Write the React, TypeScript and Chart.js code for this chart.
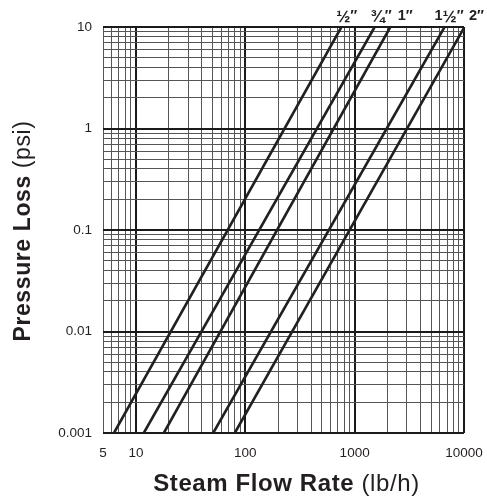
import React, { useEffect, useRef } from 'react';
import { Chart, registerables } from 'chart.js';

Chart.register(...registerables);

// Pipe sizes and the straight (log-log) pressure-loss lines, read at both ends
const pipeSizes = ['½″', '¾″', '1″', '1½″', '2″'];
const flowAtLowEnd = [6.3, 11.8, 18.0, 50.9, 80.2]; // lb/h
const lossAtLowEnd = [0.001, 0.001, 0.001, 0.001, 0.001]; // psi
const flowAtHighEnd = [757, 1524, 2120, 6640, 10000]; // lb/h
const lossAtHighEnd = [10, 10, 10, 10, 9.8]; // psi
const labelFlow = [846, 1747, 2896, 7300, 13000]; // where each size label sits (lb/h)

const xTickLabels = [5, 10, 100, 1000, 10000];
const yTickLabels = [0.001, 0.01, 0.1, 1, 10];
const xMin = 5;
const xMax = 10000;
const yMin = 0.001;
const yMax = 10;
const gridMultipliers = [1, 2, 3, 4, 5, 6, 7, 8, 9];

const FONT = '"Liberation Sans", Arial, Helvetica, sans-serif';
const INK = '#231f20';

function logGridValues(min: number, max: number): number[] {
  const out: number[] = [];
  const e0 = Math.floor(Math.log10(min)) - 1;
  const e1 = Math.ceil(Math.log10(max)) + 1;
  for (let e = e0; e <= e1; e++) {
    for (const m of gridMultipliers) {
      const v = parseFloat((m * Math.pow(10, e)).toPrecision(6));
      if (v >= min * 0.9999 && v <= max * 1.0001) out.push(v);
    }
  }
  return out;
}

const isIn = (list: number[], v: number) => list.some((t) => Math.abs(t - v) / t < 1e-6);
const isDecade = (v: number) => Math.abs(Math.log10(v) - Math.round(Math.log10(v))) < 1e-6;

const textPlugin = {
  id: 'customText',
  afterDraw(chart: any) {
    const { ctx, chartArea, scales } = chart;
    const xs = scales.x;
    ctx.save();
    ctx.fillStyle = INK;

    // size labels above the lines
    const baseY = chartArea.top - 7;
    pipeSizes.forEach((label, i) => {
      const cx = xs.getPixelForValue(labelFlow[i]);
      const parts = Array.from(label).map((ch) => {
        const frac = ch === '½' || ch === '¾';
        return { ch, frac, font: `bold ${frac ? 17 : 14.5}px ${FONT}` };
      });
      let total = 0;
      parts.forEach((p) => {
        ctx.font = p.font;
        total += ctx.measureText(p.ch).width;
      });
      let x = cx - total / 2;
      ctx.textBaseline = 'alphabetic';
      ctx.textAlign = 'left';
      parts.forEach((p) => {
        ctx.font = p.font;
        ctx.fillText(p.ch, x, baseY + (p.frac ? 2 : 0));
        x += ctx.measureText(p.ch).width;
      });
    });

    const drawMixed = (bold: string, normal: string, size: number, spacing: string) => {
      ctx.letterSpacing = spacing;
      ctx.font = `bold ${size}px ${FONT}`;
      const w1 = ctx.measureText(bold).width;
      ctx.font = `${size}px ${FONT}`;
      const w2 = ctx.measureText(normal).width;
      const start = -(w1 + w2) / 2;
      ctx.textAlign = 'left';
      ctx.textBaseline = 'middle';
      ctx.font = `bold ${size}px ${FONT}`;
      ctx.fillText(bold, start, 0);
      ctx.font = `${size}px ${FONT}`;
      ctx.fillText(normal, start + w1, 0);
    };

    ctx.save();
    ctx.translate((chartArea.left + chartArea.right) / 2 + 3, chartArea.bottom + 51);
    drawMixed('Steam Flow Rate', ' (lb/h)', 24, '0.6px');
    ctx.restore();

    ctx.save();
    ctx.translate(24, (chartArea.top + chartArea.bottom) / 2 + 1);
    ctx.rotate(-Math.PI / 2);
    drawMixed('Pressure Loss', ' (psi)', 23, '0.6px');
    ctx.restore();

    ctx.restore();
  },
};

export default function App() {
  const canvasRef = useRef<HTMLCanvasElement | null>(null);

  useEffect(() => {
    document.body.style.margin = '0';
    const canvas = canvasRef.current;
    if (!canvas) return;

    const datasets = pipeSizes.map((size, i) => ({
      label: size,
      data: [
        { x: flowAtLowEnd[i], y: lossAtLowEnd[i] },
        { x: flowAtHighEnd[i], y: lossAtHighEnd[i] },
      ],
      borderColor: INK,
      borderWidth: 2.6,
      pointRadius: 0,
      fill: false,
      tension: 0,
    }));

    const gridColor = (ctx: any) => (isDecade(ctx.tick.value) ? '#1a1a1a' : '#555555');
    const gridWidth = (ctx: any) => (isDecade(ctx.tick.value) ? 2 : 1);

    const chart = new Chart(canvas, {
      type: 'line',
      data: { datasets },
      plugins: [textPlugin],
      options: {
        animation: false,
        responsive: false,
        devicePixelRatio: 1,
        layout: { padding: { top: 27, right: 23, left: 0, bottom: 0 } },
        plugins: {
          legend: { display: false },
          tooltip: { enabled: false },
          title: { display: false },
        },
        scales: {
          x: {
            type: 'logarithmic',
            min: xMin,
            max: xMax,
            afterBuildTicks: (scale: any) => {
              scale.ticks = logGridValues(xMin, xMax).map((v) => ({ value: v }));
            },
            afterFit: (scale: any) => {
              scale.height = 66;
            },
            grid: {
              color: gridColor,
              lineWidth: gridWidth,
              drawTicks: true,
              tickLength: 12,
              tickColor: 'rgba(0,0,0,0)',
            },
            border: { display: false },
            ticks: {
              autoSkip: false,
              maxRotation: 0,
              minRotation: 0,
              padding: 0,
              color: INK,
              font: { family: FONT, size: 13.5 },
              callback: (v: any) => (isIn(xTickLabels, Number(v)) ? String(Number(v)) : ''),
            },
          },
          y: {
            type: 'logarithmic',
            min: yMin,
            max: yMax,
            afterBuildTicks: (scale: any) => {
              scale.ticks = logGridValues(yMin, yMax).map((v) => ({ value: v }));
            },
            afterFit: (scale: any) => {
              scale.width = 103;
            },
            grid: {
              color: gridColor,
              lineWidth: gridWidth,
              drawTicks: true,
              tickLength: 11,
              tickColor: 'rgba(0,0,0,0)',
            },
            border: { display: false },
            ticks: {
              autoSkip: false,
              padding: 0,
              color: INK,
              font: { family: FONT, size: 13.5 },
              callback: (v: any) => (isIn(yTickLabels, Number(v)) ? String(Number(v)) : ''),
            },
          },
        },
      },
    });

    return () => chart.destroy();
  }, []);

  return (
    <div style={{ width: 487, height: 499, background: '#ffffff' }}>
      <canvas ref={canvasRef} width={487} height={499} />
    </div>
  );
}
